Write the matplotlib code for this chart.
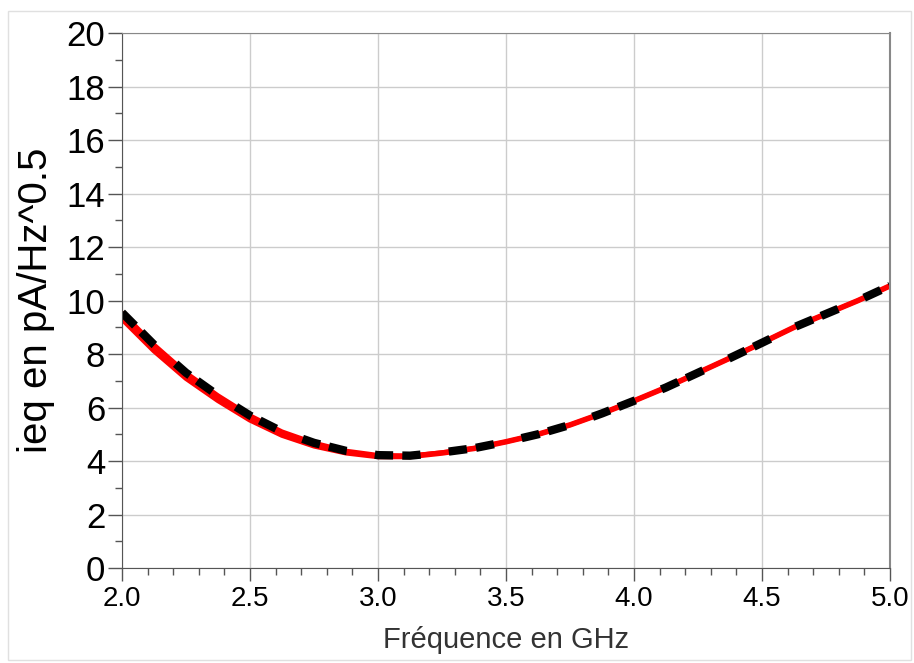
import numpy as np
import matplotlib.pyplot as plt
from matplotlib.patches import Rectangle
from matplotlib.ticker import MultipleLocator

plt.rcParams['font.family'] = ['Liberation Sans', 'DejaVu Sans']

# frequency (GHz) and noise current (pA/Hz^0.5)
freq = [2.0, 2.125, 2.25, 2.375, 2.5, 2.625, 2.75, 2.875, 3.0, 3.125, 3.25, 3.375,
        3.5, 3.625, 3.75, 3.875, 4.0, 4.125, 4.25, 4.375, 4.5, 4.625, 4.75, 4.875, 5.0]
ieq_sim = [9.55, 8.35, 7.3, 6.45, 5.7, 5.1, 4.68, 4.38, 4.22, 4.2, 4.32, 4.48,
           4.72, 5.0, 5.35, 5.78, 6.25, 6.75, 7.3, 7.85, 8.42, 9.0, 9.5, 10.0, 10.55]
ieq_sim_low = [9.32, 8.13, 7.1, 6.27, 5.54, 4.97, 4.57, 4.31, 4.17, 4.17, 4.3, 4.47,
               4.72, 5.0, 5.35, 5.78, 6.25, 6.75, 7.3, 7.85, 8.42, 9.0, 9.5, 10.0, 10.55]
ieq_model = ieq_sim

fig = plt.figure(figsize=(9.14, 6.63), dpi=100)
ax = fig.add_axes([0.1335, 0.1433, 0.8402, 0.8067])

# thin light frame around the whole picture
fig.patches.append(Rectangle((0.009, 0.005), 0.988, 0.978, transform=fig.transFigure,
                             fill=False, edgecolor='#e0e0e0', lw=1))

ax.plot(freq, ieq_sim, color='red', lw=3.2, solid_capstyle='butt')
ax.plot(freq, ieq_sim_low, color='red', lw=4.0, solid_capstyle='butt')
ax.plot(freq, ieq_model, color='black', lw=6.0, dashes=(2.2, 1.1, 2.2, 3.4))

ax.set_xlim(2.0, 5.0)
ax.set_ylim(0, 20)
ax.xaxis.set_major_locator(MultipleLocator(0.5))
ax.xaxis.set_minor_locator(MultipleLocator(0.1))
ax.yaxis.set_major_locator(MultipleLocator(2))
ax.yaxis.set_minor_locator(MultipleLocator(1))
ax.xaxis.set_major_formatter(plt.FormatStrFormatter('%.1f'))

ax.grid(True, which='major', color='#cccccc', lw=1)
ax.set_axisbelow(True)

for side in ['left', 'bottom']:
    ax.spines[side].set_color('#555555')
for side in ['right', 'top']:
    ax.spines[side].set_color('#888888')
ax.spines['right'].set_linewidth(1.5)

ax.tick_params(axis='y', which='major', direction='out', length=10, width=1,
               color='#555555', labelsize=25, pad=2)
ax.tick_params(axis='y', which='minor', direction='out', length=5, width=1, color='#555555')
ax.tick_params(axis='x', which='major', direction='out', length=9, width=1,
               color='#555555', labelsize=20, pad=4)
ax.tick_params(axis='x', which='minor', direction='out', length=5, width=1, color='#555555')

ax.set_xlabel('Fréquence en GHz', fontsize=21, color='#333333', labelpad=10)
ax.set_ylabel('ieq en pA/Hz^0.5', fontsize=29, labelpad=8)

fig.savefig('out.png', dpi=100)
